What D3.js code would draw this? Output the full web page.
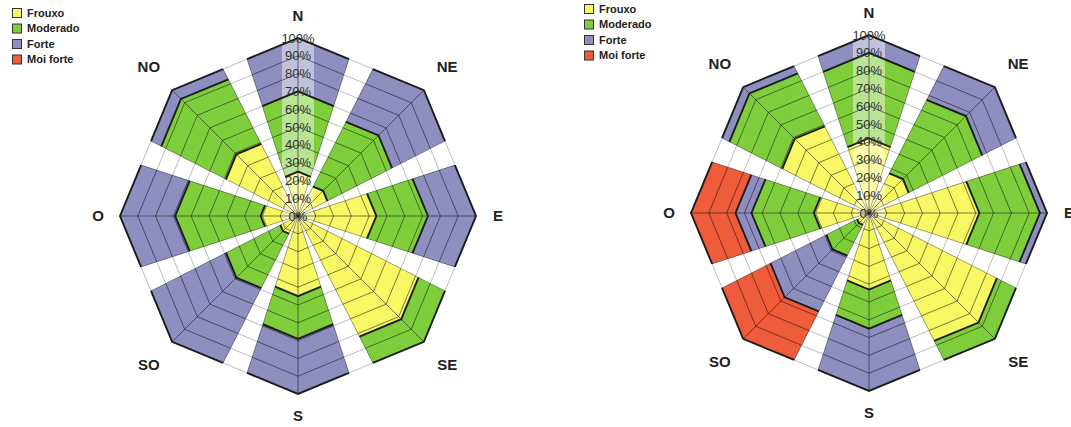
<!DOCTYPE html>
<html>
<head>
<meta charset="utf-8">
<script src="https://cdn.jsdelivr.net/npm/d3@7"></script>
<style>
    body { margin: 0; background: #fff; }
    text { font-family: "Liberation Sans", Arial, sans-serif; }
    .dir-label { font-size: 15px; font-weight: bold; fill: #222; }
    .tick-label { font-size: 13px; fill: #333; }
    .legend text { font-size: 11px; font-weight: bold; fill: #222; }
</style>
</head>
<body>
<div id="chart"></div>
<script>
'use strict';

// directions and wind classes
const directions = ["N", "NE", "E", "SE", "S", "SO", "O", "NO"];
const categories = ["Frouxo", "Moderado", "Forte", "Moi forte"];
const colors = ["#F8F864", "#7ECE3C", "#8E8EC0", "#EE5C3C"];
const tickValues = [0, 10, 20, 30, 40, 50, 60, 70, 80, 90, 100];

// left rose (% per direction)
const frouxoA = [25, 20, 44, 82, 45, 12, 21, 49];
const moderadoA = [45, 44, 29, 18, 24, 37, 48, 44];
const forteA = [30, 36, 27, 0, 31, 51, 31, 7];
const moiForteA = [0, 0, 0, 0, 0, 0, 0, 0];

// right rose
const frouxoB = [42, 27, 62, 87, 43, 8, 31, 59];
const moderadoB = [48, 50, 34, 13, 22, 21, 35, 36];
const forteB = [10, 23, 4, 0, 35, 38, 9, 5];
const moiForteB = [0, 0, 0, 0, 0, 33, 25, 0];

const width = 1071;
const height = 427;
const R = 178;
const half = 18; // half width of a direction sector, degrees

const svg = d3.select("#chart")
    .append("svg")
    .attr("width", width)
    .attr("height", height);

const rScale = d3.scaleLinear().domain([0, 100]).range([0, R]);
const angle = d3.scaleLinear().domain([0, directions.length]).range([0, 360]);
const rad = Math.PI / 180;

// point on the octagon ring of value v at angle deg
function octPoint(deg, v) {
    let phi = ((deg % 360) + 360) % 360;
    const mid = Math.floor(phi / 45) * 45 + 22.5;
    const dist = rScale(v) * Math.cos(22.5 * rad) / Math.cos((phi - mid) * rad);
    return [dist * Math.sin(phi * rad), -dist * Math.cos(phi * rad)];
}

const line = d3.line();

function sectorPath(t, v0, v1) {
    return line([
        octPoint(t - half, v1), octPoint(t, v1), octPoint(t + half, v1),
        octPoint(t + half, v0), octPoint(t, v0), octPoint(t - half, v0)
    ]) + "Z";
}

function drawGrid(g, stroke) {
    g.append("g")
        .selectAll("path")
        .data(tickValues.slice(1))
        .join("path")
        .attr("fill", "none")
        .attr("stroke", stroke)
        .attr("stroke-width", 1)
        .attr("d", v => line(directions.map((d, i) => octPoint(angle(i), v))) + "Z");

    const spokes = [];
    directions.forEach((d, i) => [-half, 0, half].forEach(o => spokes.push(angle(i) + o)));
    g.append("g")
        .selectAll("line")
        .data(spokes)
        .join("line")
        .attr("x1", 0).attr("y1", 0)
        .attr("x2", a => octPoint(a, 100)[0])
        .attr("y2", a => octPoint(a, 100)[1])
        .attr("stroke", stroke)
        .attr("stroke-width", 1);
}

function drawRose(id, cx, cy, series) {
    const rows = directions.map((d, i) => {
        const row = { dir: d };
        categories.forEach((c, k) => row[c] = series[k][i]);
        return row;
    });
    const stacked = d3.stack().keys(categories)(rows);
    const top = stacked[stacked.length - 1];

    const g = svg.append("g").attr("transform", `translate(${cx},${cy})`);

    // clip = filled sectors
    g.append("clipPath")
        .attr("id", id)
        .selectAll("path")
        .data(top)
        .join("path")
        .attr("d", d => sectorPath(angle(directions.indexOf(d.data.dir)), 0, d[1]));

    // light grid seen in the gaps
    drawGrid(g, "#bdbdbd");

    // bands
    stacked.forEach((layer, k) => {
        g.append("g")
            .selectAll("path")
            .data(layer.filter(d => d[1] > d[0]))
            .join("path")
            .attr("fill", colors[k])
            .attr("d", d => sectorPath(angle(directions.indexOf(d.data.dir)), d[0], d[1]));
    });

    // label backdrop on the N axis
    g.append("rect")
        .attr("x", -16)
        .attr("y", -rScale(100) - 8)
        .attr("width", 32)
        .attr("height", rScale(100) + 14)
        .attr("fill", "#fff")
        .attr("opacity", 0.45);

    // darker grid over the fills
    drawGrid(g.append("g").attr("clip-path", `url(#${id})`), "rgba(20,20,20,0.55)");

    // band outlines
    stacked.forEach(layer => {
        g.append("g")
            .selectAll("path")
            .data(layer.filter(d => d[1] > d[0]))
            .join("path")
            .attr("fill", "none")
            .attr("stroke", "#1c1c1c")
            .attr("stroke-width", 1.9)
            .attr("d", d => {
                const t = angle(directions.indexOf(d.data.dir));
                return line([octPoint(t - half, d[1]), octPoint(t, d[1]), octPoint(t + half, d[1])]);
            });
    });

    // tick labels
    g.append("g")
        .selectAll("text")
        .data(tickValues)
        .join("text")
        .attr("class", "tick-label")
        .attr("x", 0)
        .attr("y", v => -rScale(v))
        .attr("dy", "0.35em")
        .attr("text-anchor", "middle")
        .text(v => v + "%");

    // direction labels
    g.append("g")
        .selectAll("text")
        .data(directions)
        .join("text")
        .attr("class", "dir-label")
        .attr("x", (d, i) => (i % 2 ? 211 : 200) * Math.sin(angle(i) * rad))
        .attr("y", (d, i) => -(i % 2 ? 211 : 200) * Math.cos(angle(i) * rad))
        .attr("dy", "0.35em")
        .attr("text-anchor", "middle")
        .text(d => d);
}

function drawLegend(x, y) {
    const lg = svg.append("g")
        .attr("class", "legend")
        .attr("transform", `translate(${x},${y})`);
    const item = lg.selectAll("g")
        .data(categories)
        .join("g")
        .attr("transform", (d, i) => `translate(0,${i * 15.5})`);
    item.append("rect")
        .attr("x", 0.5).attr("y", -4.5)
        .attr("width", 9).attr("height", 9)
        .attr("fill", (d, i) => colors[i])
        .attr("stroke", "#333");
    item.append("text")
        .attr("x", 15)
        .attr("dy", "0.35em")
        .text(d => d);
}

drawRose("clipA", 298, 216, [frouxoA, moderadoA, forteA, moiForteA]);
drawRose("clipB", 869, 213, [frouxoB, moderadoB, forteB, moiForteB]);
drawLegend(12, 13);
drawLegend(584, 9);
</script>
</body>
</html>
